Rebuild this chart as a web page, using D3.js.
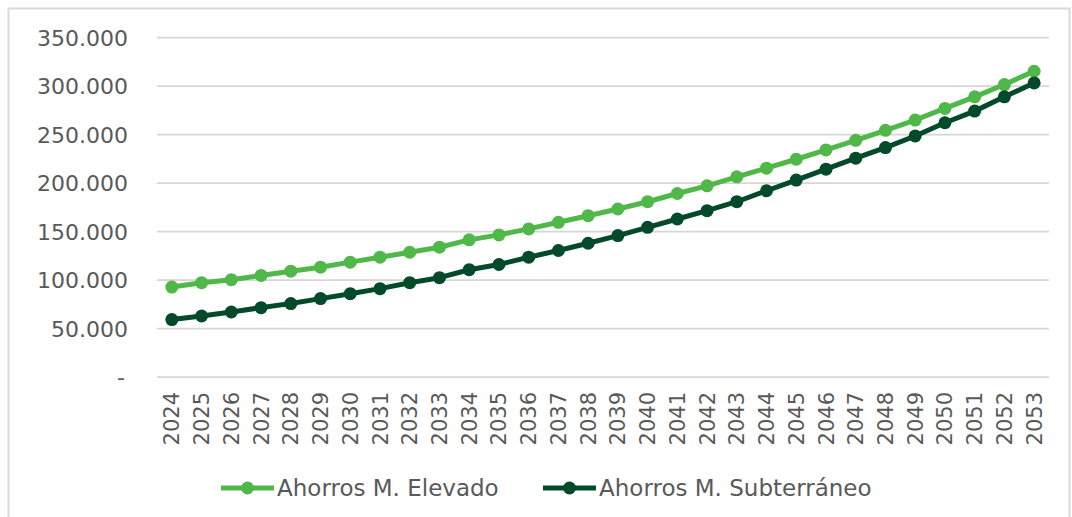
<!DOCTYPE html>
<html><head><meta charset="utf-8">
<script src="https://cdn.jsdelivr.net/npm/d3@7"></script>
<style>
html,body{margin:0;padding:0;background:#fff;}
svg{display:block;font-family:"DejaVu Sans",Verdana,sans-serif;}
</style></head>
<body><svg id="c" width="1072" height="517"></svg>
<script>
const years = d3.range(2024, 2054).map(String);
const elevado = [92.7,97.2,100.3,104.7,109.1,113.2,118.4,123.5,128.6,133.8,141.4,146.5,152.7,159.5,166.3,173.2,180.7,189.2,197.1,206.4,215.3,224.5,234.1,244.0,254.3,264.9,276.9,288.8,301.5,315.2].map(v=>v*1000);
const subterraneo = [59.2,62.9,67.0,71.5,75.7,80.8,85.9,91.1,97.2,102.4,110.6,116.0,123.5,130.4,137.9,145.8,154.3,162.9,171.5,180.7,192.0,203.0,214.3,225.6,236.5,248.5,262.1,274.1,288.8,303.2].map(v=>v*1000);
const yTicks = [0,50000,100000,150000,200000,250000,300000,350000];
const seriesNames = ["Ahorros M. Elevado","Ahorros M. Subterráneo"];
const colors = ["#4fb848","#024a2a"];

const svg = d3.select("#c");
svg.append("rect").attr("x",8.5).attr("y",8.5).attr("width",1061).attr("height",520)
  .attr("fill","none").attr("stroke","#d9d9d9").attr("stroke-width",2);

const x = d3.scaleBand().domain(years).range([157,1049]);
const y = d3.scaleLinear().domain([0,350000]).range([377,37.5]);

// grid
svg.append("g").selectAll("line").data(yTicks).join("line")
  .attr("x1",157).attr("x2",1049).attr("y1",d=>y(d)).attr("y2",d=>y(d))
  .attr("stroke","#d6d6d6").attr("stroke-width",1.75);

const fmt = d => d===0 ? "-" : d3.format(",")(d).replace(/,/g,".");
const yAxis = d3.axisLeft(y).tickValues(yTicks).tickFormat(fmt).tickSize(0).tickPadding(0);
const gy = svg.append("g").attr("transform","translate(128,0)").call(yAxis);
gy.select(".domain").remove();
gy.selectAll("text").attr("fill","#595959").attr("font-size",22).attr("font-family","DejaVu Sans").attr("dy","0.36em")
  .attr("dx", d=> d===0 ? -3 : 0);

const xAxis = d3.axisBottom(x).tickSize(0).tickPadding(0);
const gx = svg.append("g").attr("transform","translate(0,377)").call(xAxis);
gx.select(".domain").remove();
gx.selectAll("text").attr("fill","#595959").attr("font-size",21).attr("font-family","DejaVu Sans")
  .attr("transform","rotate(-90)").attr("text-anchor","end").attr("x",-15).attr("y",0).attr("dy","0.36em");

const data = [elevado, subterraneo];
const line = d3.line().x((d,i)=>x(years[i])+x.bandwidth()/2).y(d=>y(d));
data.forEach((s,k)=>{
  const g = svg.append("g");
  g.append("path").datum(s).attr("d",line).attr("fill","none").attr("stroke",colors[k]).attr("stroke-width",5).attr("stroke-linejoin","round");
  g.selectAll("circle").data(s).join("circle")
    .attr("cx",(d,i)=>x(years[i])+x.bandwidth()/2).attr("cy",d=>y(d)).attr("r",6.5).attr("fill",colors[k]);
});

// legend
const legX = [221, 543];
const leg = svg.append("g");
seriesNames.forEach((n,k)=>{
  const g = leg.append("g").attr("transform",`translate(${legX[k]},488)`);
  g.append("line").attr("x1",0).attr("x2",53).attr("stroke",colors[k]).attr("stroke-width",5);
  g.append("circle").attr("cx",26.5).attr("r",6.5).attr("fill",colors[k]);
  g.append("text").attr("x",56).attr("dy","0.36em").attr("fill","#595959").attr("font-size",23).attr("font-family","DejaVu Sans").text(n);
});
</script></body></html>
